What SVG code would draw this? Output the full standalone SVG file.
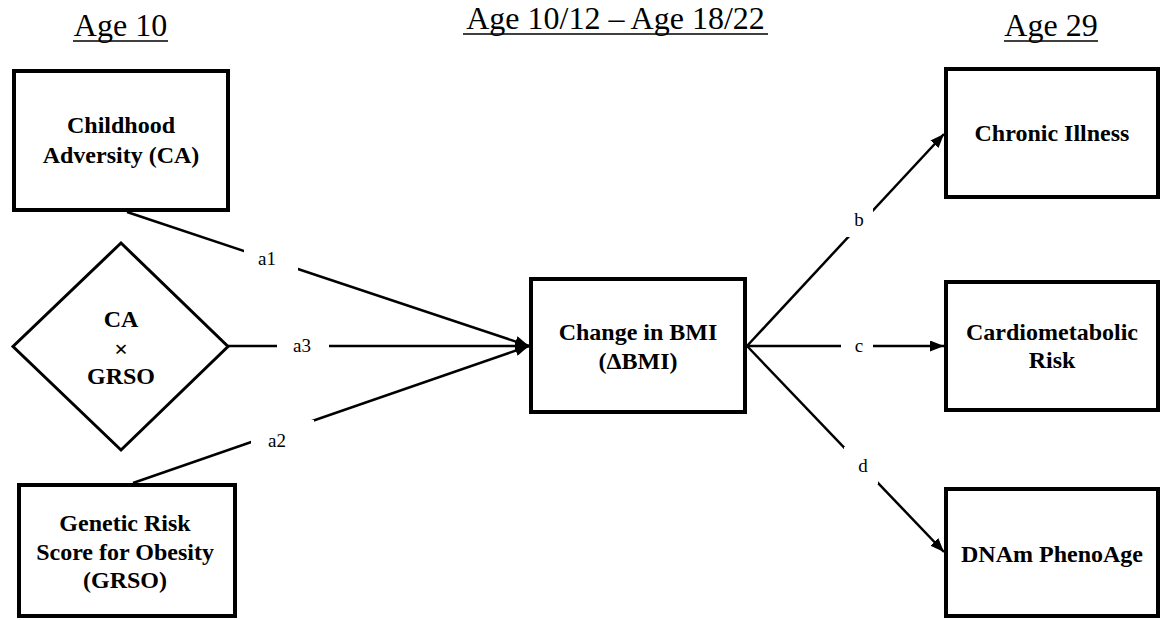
<svg xmlns="http://www.w3.org/2000/svg" width="1162" height="620" viewBox="0 0 1162 620">
<defs>
<style>
.hdr{font-family:"Liberation Serif","Times New Roman",serif;font-size:32px;fill:#000;text-anchor:middle}
.ul{stroke:#000;stroke-width:1.6}
.box{fill:#fff;stroke:#000;stroke-width:4}
.dia{fill:#fff;stroke:#000;stroke-width:3}
.nt{font-family:"Liberation Serif","Times New Roman",serif;font-size:24px;font-weight:bold;fill:#000;text-anchor:middle}
.ln{stroke:#000;stroke-width:2.5;fill:none}
.lbg{fill:#fff;stroke:none}
.lt{font-family:"Liberation Serif","Times New Roman",serif;font-size:19px;fill:#000;text-anchor:middle}
</style>
<marker id="ah" viewBox="0 0 14 11" refX="14" refY="5.5" markerWidth="14" markerHeight="11" markerUnits="userSpaceOnUse" orient="auto">
<path d="M0,0 L14,5.5 L0,11 z" fill="#000"/>
</marker>
</defs>
<rect width="1162" height="620" fill="#fff"/>

<g id="headers">
<text class="hdr" x="120.5" y="36">Age 10</text>
<line class="ul" x1="73" y1="41" x2="168" y2="41"/>
<text class="hdr" x="615.5" y="29">Age 10/12 – Age 18/22</text>
<line class="ul" x1="463" y1="34" x2="768" y2="34"/>
<text class="hdr" x="1051" y="36">Age 29</text>
<line class="ul" x1="1004" y1="41" x2="1098" y2="41"/>
</g>

<g id="connectors">
<line class="ln" x1="127" y1="212" x2="529" y2="346" marker-end="url(#ah)"/>
<line class="ln" x1="228" y1="346" x2="529" y2="346" marker-end="url(#ah)"/>
<line class="ln" x1="133" y1="483" x2="529" y2="346" marker-end="url(#ah)"/>
<line class="ln" x1="747" y1="346" x2="944" y2="134" marker-end="url(#ah)"/>
<line class="ln" x1="747" y1="346" x2="944" y2="346" marker-end="url(#ah)"/>
<line class="ln" x1="747" y1="346" x2="944" y2="552" marker-end="url(#ah)"/>
<rect class="lbg" x="244" y="242" width="54" height="33"/>
<text class="lt" x="267" y="265">a1</text>
<rect class="lbg" x="277" y="328" width="52" height="34"/>
<text class="lt" x="302" y="352">a3</text>
<rect class="lbg" x="251" y="420" width="63" height="38"/>
<text class="lt" x="277" y="447">a2</text>
<rect class="lbg" x="842" y="202" width="31" height="35"/>
<text class="lt" x="859" y="226">b</text>
<rect class="lbg" x="841" y="328" width="32" height="34"/>
<text class="lt" x="859" y="352">c</text>
<rect class="lbg" x="844" y="447" width="34" height="37"/>
<text class="lt" x="863" y="472">d</text>
</g>

<g id="node-ca">
<rect class="box" x="14" y="71" width="214" height="139"/>
<text class="nt" x="121" y="133">Childhood</text>
<text class="nt" x="121" y="163">Adversity (CA)</text>
</g>

<g id="node-interaction">
<polygon class="dia" points="121,243 228,346.5 121,450 13,346.5"/>
<text class="nt" x="121" y="327">CA</text>
<text class="nt" x="121" y="357">×</text>
<text class="nt" x="121" y="384">GRSO</text>
</g>

<g id="node-grso">
<rect class="box" x="19" y="485" width="216" height="131"/>
<text class="nt" x="125" y="531">Genetic Risk</text>
<text class="nt" x="125" y="560">Score for Obesity</text>
<text class="nt" x="125" y="588">(GRSO)</text>
</g>

<g id="node-bmi">
<rect class="box" x="531" y="279" width="214" height="133"/>
<text class="nt" x="638" y="340">Change in BMI</text>
<text class="nt" x="638" y="369">(ΔBMI)</text>
</g>

<g id="node-chronic">
<rect class="box" x="946" y="69" width="212" height="128"/>
<text class="nt" x="1052" y="141">Chronic Illness</text>
</g>

<g id="node-cardio">
<rect class="box" x="946" y="282" width="212" height="128"/>
<text class="nt" x="1052" y="340">Cardiometabolic</text>
<text class="nt" x="1052" y="368">Risk</text>
</g>

<g id="node-dnam">
<rect class="box" x="946" y="489" width="212" height="127"/>
<text class="nt" x="1052" y="562">DNAm PhenoAge</text>
</g>
</svg>
